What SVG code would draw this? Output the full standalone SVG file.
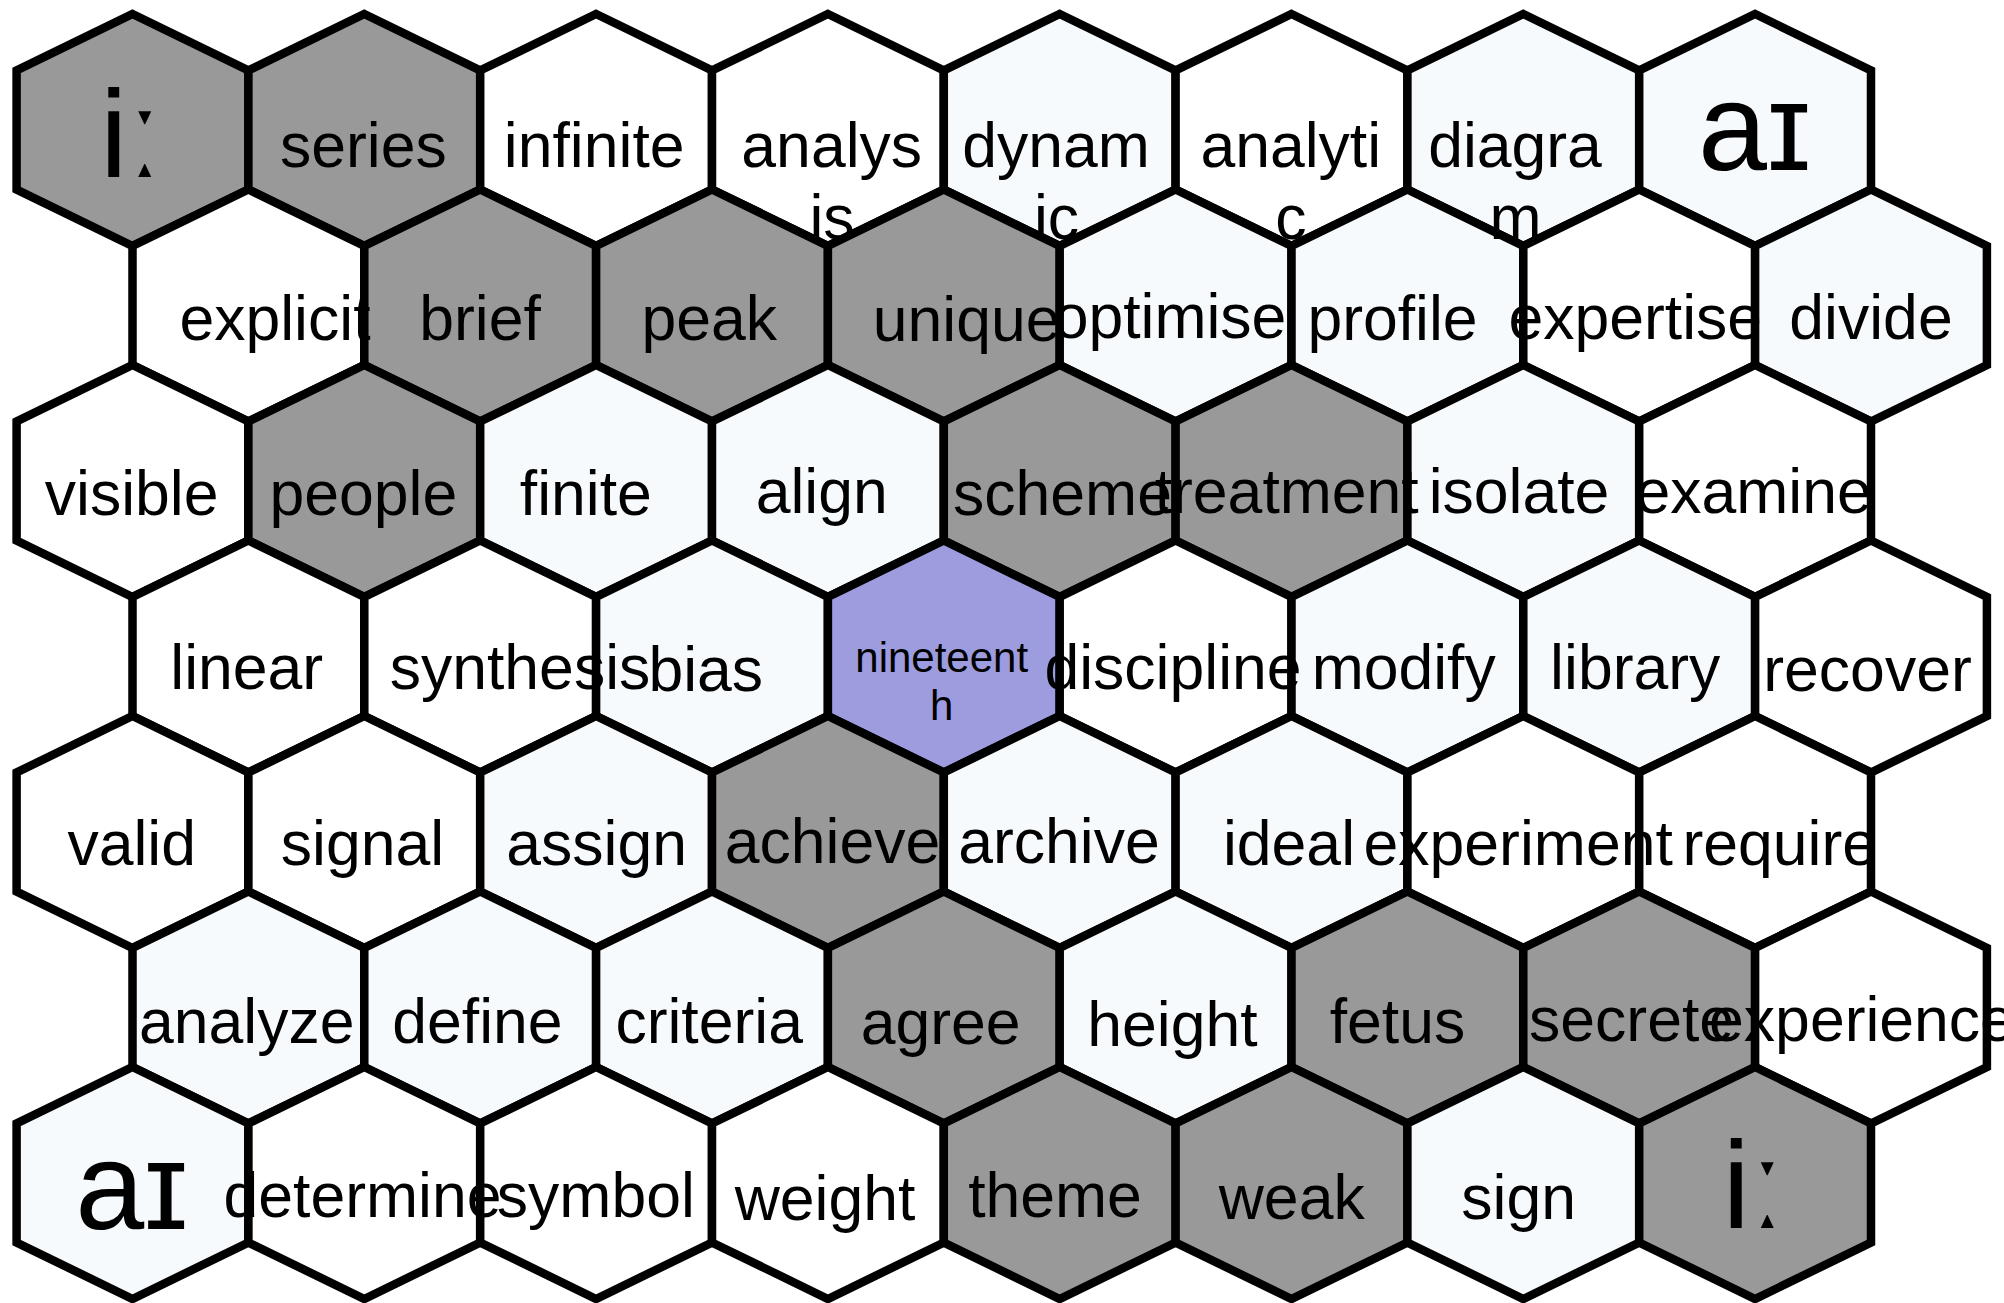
<svg xmlns="http://www.w3.org/2000/svg" xmlns:xlink="http://www.w3.org/1999/xlink" width="2004" height="1303" viewBox="0 0 2004 1303">
<style>
.hex{stroke:#000;stroke-width:8.5;stroke-linejoin:miter}
.g{fill:#999999}.l{fill:#f7fafc}.w{fill:#ffffff}.p{fill:#9c9cde}
text{font-family:"Liberation Sans",Arial,"DejaVu Sans",sans-serif;font-size:62.5px;text-anchor:middle;fill:#000}
.ipa{font-size:124px}
.sm{font-size:42px}
</style>
<defs>
<polygon id="hex" points="0,-116 115.9,-59.5 115.9,59.5 0,116 -115.9,59.5 -115.9,-59.5"/>
</defs>
<rect width="2004" height="1303" fill="#fff"/>
<g id="cells">
<g id="cell-r0c0"><use href="#hex" x="132.5" y="130" class="hex g"/></g>
<g id="cell-r0c1"><use href="#hex" x="364.3" y="130" class="hex g"/></g>
<g id="cell-r0c2"><use href="#hex" x="596.1" y="130" class="hex w"/></g>
<g id="cell-r0c3"><use href="#hex" x="827.9" y="130" class="hex w"/></g>
<g id="cell-r0c4"><use href="#hex" x="1059.7" y="130" class="hex l"/></g>
<g id="cell-r0c5"><use href="#hex" x="1291.5" y="130" class="hex w"/></g>
<g id="cell-r0c6"><use href="#hex" x="1523.3" y="130" class="hex l"/></g>
<g id="cell-r0c7"><use href="#hex" x="1755.1" y="130" class="hex l"/></g>

<g id="cell-r1c0"><use href="#hex" x="248.4" y="305.5" class="hex w"/></g>
<g id="cell-r1c1"><use href="#hex" x="480.2" y="305.5" class="hex g"/></g>
<g id="cell-r1c2"><use href="#hex" x="712" y="305.5" class="hex g"/></g>
<g id="cell-r1c3"><use href="#hex" x="943.8" y="305.5" class="hex g"/></g>
<g id="cell-r1c4"><use href="#hex" x="1175.6" y="305.5" class="hex l"/></g>
<g id="cell-r1c5"><use href="#hex" x="1407.4" y="305.5" class="hex l"/></g>
<g id="cell-r1c6"><use href="#hex" x="1639.2" y="305.5" class="hex w"/></g>
<g id="cell-r1c7"><use href="#hex" x="1871" y="305.5" class="hex l"/></g>

<g id="cell-r2c0"><use href="#hex" x="132.5" y="481" class="hex w"/></g>
<g id="cell-r2c1"><use href="#hex" x="364.3" y="481" class="hex g"/></g>
<g id="cell-r2c2"><use href="#hex" x="596.1" y="481" class="hex l"/></g>
<g id="cell-r2c3"><use href="#hex" x="827.9" y="481" class="hex l"/></g>
<g id="cell-r2c4"><use href="#hex" x="1059.7" y="481" class="hex g"/></g>
<g id="cell-r2c5"><use href="#hex" x="1291.5" y="481" class="hex g"/></g>
<g id="cell-r2c6"><use href="#hex" x="1523.3" y="481" class="hex l"/></g>
<g id="cell-r2c7"><use href="#hex" x="1755.1" y="481" class="hex w"/></g>

<g id="cell-r3c0"><use href="#hex" x="248.4" y="656.5" class="hex w"/></g>
<g id="cell-r3c1"><use href="#hex" x="480.2" y="656.5" class="hex w"/></g>
<g id="cell-r3c2"><use href="#hex" x="712" y="656.5" class="hex l"/></g>
<g id="cell-r3c3"><use href="#hex" x="943.8" y="656.5" class="hex p"/></g>
<g id="cell-r3c4"><use href="#hex" x="1175.6" y="656.5" class="hex w"/></g>
<g id="cell-r3c5"><use href="#hex" x="1407.4" y="656.5" class="hex l"/></g>
<g id="cell-r3c6"><use href="#hex" x="1639.2" y="656.5" class="hex l"/></g>
<g id="cell-r3c7"><use href="#hex" x="1871" y="656.5" class="hex w"/></g>

<g id="cell-r4c0"><use href="#hex" x="132.5" y="832" class="hex w"/></g>
<g id="cell-r4c1"><use href="#hex" x="364.3" y="832" class="hex w"/></g>
<g id="cell-r4c2"><use href="#hex" x="596.1" y="832" class="hex l"/></g>
<g id="cell-r4c3"><use href="#hex" x="827.9" y="832" class="hex g"/></g>
<g id="cell-r4c4"><use href="#hex" x="1059.7" y="832" class="hex l"/></g>
<g id="cell-r4c5"><use href="#hex" x="1291.5" y="832" class="hex l"/></g>
<g id="cell-r4c6"><use href="#hex" x="1523.3" y="832" class="hex w"/></g>
<g id="cell-r4c7"><use href="#hex" x="1755.1" y="832" class="hex w"/></g>

<g id="cell-r5c0"><use href="#hex" x="248.4" y="1007.5" class="hex l"/></g>
<g id="cell-r5c1"><use href="#hex" x="480.2" y="1007.5" class="hex l"/></g>
<g id="cell-r5c2"><use href="#hex" x="712" y="1007.5" class="hex l"/></g>
<g id="cell-r5c3"><use href="#hex" x="943.8" y="1007.5" class="hex g"/></g>
<g id="cell-r5c4"><use href="#hex" x="1175.6" y="1007.5" class="hex l"/></g>
<g id="cell-r5c5"><use href="#hex" x="1407.4" y="1007.5" class="hex g"/></g>
<g id="cell-r5c6"><use href="#hex" x="1639.2" y="1007.5" class="hex g"/></g>
<g id="cell-r5c7"><use href="#hex" x="1871" y="1007.5" class="hex w"/></g>

<g id="cell-r6c0"><use href="#hex" x="132.5" y="1183" class="hex l"/></g>
<g id="cell-r6c1"><use href="#hex" x="364.3" y="1183" class="hex w"/></g>
<g id="cell-r6c2"><use href="#hex" x="596.1" y="1183" class="hex w"/></g>
<g id="cell-r6c3"><use href="#hex" x="827.9" y="1183" class="hex w"/></g>
<g id="cell-r6c4"><use href="#hex" x="1059.7" y="1183" class="hex g"/></g>
<g id="cell-r6c5"><use href="#hex" x="1291.5" y="1183" class="hex g"/></g>
<g id="cell-r6c6"><use href="#hex" x="1523.3" y="1183" class="hex l"/></g>
<g id="cell-r6c7"><use href="#hex" x="1755.1" y="1183" class="hex g"/></g>
</g>
<g id="connectors"/>
<g id="labels">
<text id="label-r0c0" class="ipa" x="131" y="177">iː</text>
<text id="label-r0c1" x="363.3" y="167">series</text>
<text id="label-r0c2" x="594.2" y="167">infinite</text>
<text id="label-r0c3" x="831.7" y="167">analys<tspan x="832" y="239">is</tspan></text>
<text id="label-r0c4" x="1056" y="167">dynam<tspan x="1056.5" y="239">ic</tspan></text>
<text id="label-r0c5" x="1290.8" y="167">analyti<tspan x="1290.8" y="239">c</tspan></text>
<text id="label-r0c6" x="1515" y="167">diagra<tspan x="1515.5" y="239">m</tspan></text>
<text id="label-r0c7" class="ipa" x="1754.6" y="170">aɪ</text>

<text id="label-r1c0" x="275" y="340">explicit</text>
<text id="label-r1c1" x="480" y="340">brief</text>
<text id="label-r1c2" x="709.2" y="340">peak</text>
<text id="label-r1c3" x="966.7" y="341">unique</text>
<text id="label-r1c4" x="1170" y="338">optimise</text>
<text id="label-r1c5" x="1392.5" y="340">profile</text>
<text id="label-r1c6" x="1635.3" y="339">expertise</text>
<text id="label-r1c7" x="1871" y="339">divide</text>

<text id="label-r2c0" x="131.7" y="515">visible</text>
<text id="label-r2c1" x="363.3" y="515">people</text>
<text id="label-r2c2" x="585.8" y="515">finite</text>
<text id="label-r2c3" x="821.7" y="513">align</text>
<text id="label-r2c4" x="1062.5" y="515">scheme</text>
<text id="label-r2c5" x="1286.7" y="513">treatment</text>
<text id="label-r2c6" x="1519" y="513">isolate</text>
<text id="label-r2c7" x="1753.6" y="513">examine</text>

<text id="label-r3c0" x="246.7" y="689">linear</text>
<text id="label-r3c1" x="520" y="689">synthesis</text>
<text id="label-r3c2" x="705.8" y="691">bias</text>
<text id="label-r3c3" class="sm" x="941.7" y="672">nineteent<tspan x="941.7" y="720">h</tspan></text>
<text id="label-r3c4" x="1173" y="689">discipline</text>
<text id="label-r3c5" x="1403.7" y="689">modify</text>
<text id="label-r3c6" x="1635.2" y="689">library</text>
<text id="label-r3c7" x="1867.5" y="691">recover</text>

<text id="label-r4c0" x="131.7" y="865">valid</text>
<text id="label-r4c1" x="362.5" y="865">signal</text>
<text id="label-r4c2" x="596.7" y="865">assign</text>
<text id="label-r4c3" x="832.5" y="863">achieve</text>
<text id="label-r4c4" x="1059" y="863">archive</text>
<text id="label-r4c5" x="1289" y="865">ideal</text>
<text id="label-r4c6" x="1518.2" y="865">experiment</text>
<text id="label-r4c7" x="1779.8" y="865">require</text>

<text id="label-r5c0" x="246.7" y="1043">analyze</text>
<text id="label-r5c1" x="477.5" y="1043">define</text>
<text id="label-r5c2" x="709.2" y="1043">criteria</text>
<text id="label-r5c3" x="940.7" y="1044">agree</text>
<text id="label-r5c4" x="1172.5" y="1046">height</text>
<text id="label-r5c5" x="1397.5" y="1043">fetus</text>
<text id="label-r5c6" x="1631.6" y="1041">secrete</text>
<text id="label-r5c7" x="1862" y="1041">experience</text>

<text id="label-r6c0" class="ipa" x="131.7" y="1229">aɪ</text>
<text id="label-r6c1" x="362.5" y="1217">determine</text>
<text id="label-r6c2" x="595.8" y="1217">symbol</text>
<text id="label-r6c3" x="825" y="1220">weight</text>
<text id="label-r6c4" x="1055" y="1217">theme</text>
<text id="label-r6c5" x="1291.7" y="1219">weak</text>
<text id="label-r6c6" x="1518.7" y="1219">sign</text>
<text id="label-r6c7" class="ipa" x="1753.5" y="1228">iː</text>
</g>
</svg>
